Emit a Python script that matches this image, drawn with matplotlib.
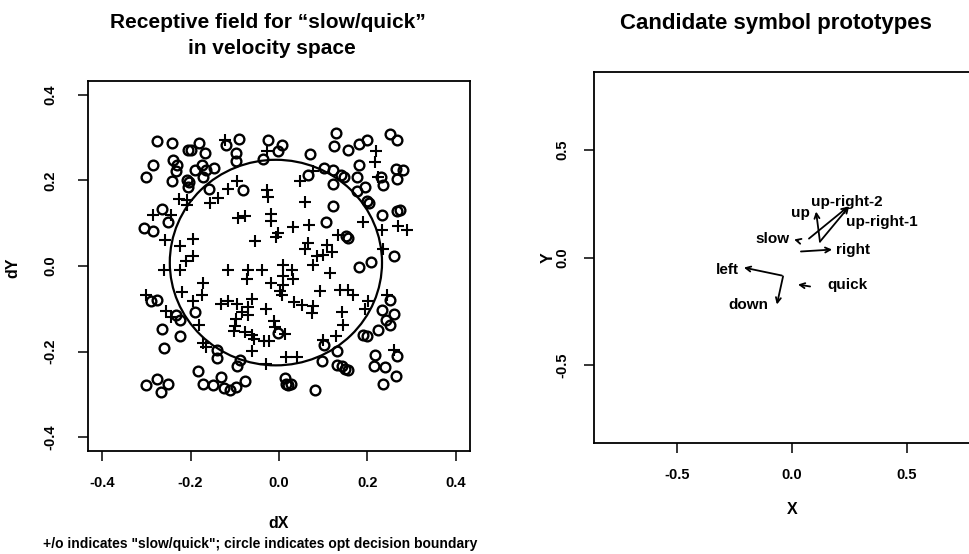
import matplotlib
matplotlib.use('Agg')
import matplotlib.pyplot as plt
from matplotlib.patches import Circle

plt.rcParams['font.family'] = ['Liberation Sans', 'DejaVu Sans']
plt.rcParams['font.weight'] = 'bold'
plt.rcParams['axes.unicode_minus'] = False

# "slow" samples (+) in velocity space
slow_x = [-0.123, -0.027, -0.095, -0.116, -0.027, -0.025, -0.139, -0.157, -0.227, -0.207,
          -0.209, -0.286, -0.245, -0.093, -0.077, -0.018, -0.018, 0.032, -0.002, -0.007,
          0.048, -0.257, -0.223, -0.195, -0.195, -0.211, -0.225, -0.261, -0.055, -0.116,
          -0.070, -0.039, 0.009, 0.030, -0.073, 0.009, 0.032, -0.018, 0.009, 0.002,
          0.007, -0.173, -0.220, -0.175, -0.195, -0.300, -0.132, -0.116, -0.095, -0.061,
          -0.070, -0.030, -0.084, -0.070, -0.098, -0.100, -0.102, -0.077, -0.061, -0.057,
          -0.034, -0.023, -0.011, -0.009, 0.014, -0.255, -0.245, -0.180, -0.173, -0.164,
          -0.061, 0.016, 0.041, -0.030, 0.220, 0.218, 0.223, 0.077, 0.059, 0.068,
          0.191, 0.234, 0.270, 0.289, 0.134, 0.066, 0.059, 0.109, 0.120, 0.100,
          0.086, 0.077, 0.116, 0.236, 0.093, 0.139, 0.157, 0.168, 0.034, 0.052,
          0.077, 0.075, 0.143, 0.145, 0.130, 0.100, 0.202, 0.195, 0.245, 0.259]
slow_y = [0.294, 0.268, 0.198, 0.179, 0.177, 0.161, 0.159, 0.147, 0.156, 0.154,
          0.142, 0.119, 0.119, 0.112, 0.117, 0.121, 0.105, 0.091, 0.077, 0.068,
          0.198, 0.061, 0.047, 0.063, 0.023, 0.012, -0.009, -0.009, 0.058, -0.009,
          -0.009, -0.009, 0.002, -0.009, -0.030, -0.023, -0.030, -0.040, -0.044, -0.058,
          -0.068, -0.040, -0.061, -0.068, -0.082, -0.068, -0.089, -0.082, -0.089, -0.077,
          -0.096, -0.100, -0.107, -0.114, -0.124, -0.140, -0.152, -0.154, -0.161, -0.170,
          -0.175, -0.175, -0.128, -0.142, -0.159, -0.105, -0.119, -0.138, -0.179, -0.189,
          -0.198, -0.212, -0.212, -0.228, 0.268, 0.242, 0.207, 0.221, 0.149, 0.096,
          0.103, 0.084, 0.093, 0.084, 0.072, 0.054, 0.040, 0.049, 0.033, 0.026,
          0.023, 0.002, -0.016, 0.040, -0.058, -0.056, -0.056, -0.068, -0.084, -0.091,
          -0.093, -0.110, -0.107, -0.138, -0.163, -0.172, -0.082, -0.100, -0.068, -0.196]

# "quick" samples (o)
quick_x = [-0.275, -0.241, -0.205, -0.180, -0.120, -0.091, -0.025, 0.007, -0.002, -0.098,
           -0.098, -0.286, -0.300, -0.239, -0.230, -0.232, -0.241, -0.207, -0.205, -0.191,
           -0.175, -0.164, -0.148, -0.173, -0.168, -0.036, -0.159, -0.082, -0.264, -0.250,
           -0.305, -0.286, -0.289, -0.275, -0.234, -0.225, -0.191, -0.264, -0.223, -0.259,
           -0.141, -0.141, -0.089, -0.095, -0.184, -0.132, -0.077, -0.173, -0.150, -0.125,
           -0.111, -0.098, -0.300, -0.275, -0.252, -0.268, 0.014, 0.016, 0.027, -0.002,
           0.130, 0.125, 0.155, 0.182, 0.198, 0.252, 0.266, 0.070, 0.182, 0.102,
           0.123, 0.141, 0.148, 0.123, 0.177, 0.195, 0.177, 0.200, 0.230, 0.236,
           0.264, 0.280, 0.268, 0.268, 0.232, 0.123, 0.107, 0.152, 0.259, 0.207,
           0.182, 0.066, 0.252, 0.232, 0.261, 0.243, 0.252, 0.223, 0.189, 0.200,
           0.102, 0.132, 0.098, 0.132, 0.143, 0.150, 0.218, 0.214, 0.239, 0.266,
           0.264, 0.236, 0.082,
           -0.200, -0.203, 0.204, 0.273, 0.157, 0.155, 0.020]
quick_y = [0.291, 0.287, 0.270, 0.287, 0.282, 0.296, 0.294, 0.282, 0.268, 0.263,
           0.245, 0.235, 0.207, 0.247, 0.235, 0.221, 0.198, 0.200, 0.184, 0.224,
           0.235, 0.224, 0.228, 0.207, 0.263, 0.249, 0.179, 0.177, 0.133, 0.103,
           0.089, 0.082, -0.082, -0.079, -0.114, -0.126, -0.107, -0.147, -0.163, -0.191,
           -0.196, -0.214, -0.219, -0.233, -0.245, -0.259, -0.268, -0.275, -0.277, -0.284,
           -0.289, -0.282, -0.277, -0.263, -0.275, -0.294, -0.261, -0.275, -0.275, -0.156,
           0.310, 0.280, 0.270, 0.284, 0.294, 0.308, 0.294, 0.261, 0.235, 0.228,
           0.224, 0.212, 0.207, 0.191, 0.207, 0.184, 0.175, 0.152, 0.207, 0.189,
           0.226, 0.224, 0.203, 0.128, 0.119, 0.140, 0.103, 0.070, 0.023, 0.009,
           -0.002, 0.212, -0.079, -0.103, -0.112, -0.126, -0.138, -0.149, -0.161, -0.163,
           -0.184, -0.198, -0.221, -0.231, -0.233, -0.240, -0.207, -0.233, -0.235, -0.210,
           -0.256, -0.275, -0.289,
           0.272, 0.196, 0.148, 0.131, 0.066, -0.243, -0.279]

# optimal decision boundary
bound_center = (-0.007, 0.008)
bound_radius = 0.24

ticks_left = [-0.4, -0.2, 0.0, 0.2, 0.4]
ticks_right = [-0.5, 0.0, 0.5]

# candidate symbol prototypes: arrow tail -> head, plus label position
proto_names = ['up-right-2', 'up-right-1', 'up', 'right', 'slow', 'left', 'down', 'quick']
proto_x0 = [0.074, 0.122, 0.122, 0.039, 0.026, -0.044, -0.039, 0.079]
proto_y0 = [0.088, 0.074, 0.074, 0.028, 0.079, -0.084, -0.088, -0.135]
proto_x1 = [0.245, 0.249, 0.105, 0.175, 0.009, -0.210, -0.066, 0.026]
proto_y1 = [0.237, 0.237, 0.214, 0.037, 0.084, -0.047, -0.219, -0.126]
label_x = [0.240, 0.393, 0.039, 0.266, -0.083, -0.284, -0.192, 0.240]
label_y = [0.260, 0.167, 0.209, 0.037, 0.084, -0.056, -0.223, -0.126]

W, H = 969, 554
fig = plt.figure(figsize=(W / 100, H / 100), dpi=100)


def fx(x):
    return x / W


def fy(y):
    return 1 - y / H


def style_axes(ax, ticks, ypad):
    ax.set_xticks(ticks)
    ax.set_yticks(ticks)
    ax.set_xticklabels(['%.1f' % t for t in ticks])
    ax.set_yticklabels(['%.1f' % t for t in ticks])
    ax.tick_params(direction='out', length=7, width=1.1, labelsize=10.5, colors='k')
    ax.tick_params(axis='x', pad=11)
    ax.tick_params(axis='y', pad=ypad, labelrotation=90)
    for lab in ax.get_yticklabels():
        lab.set_va('center')
    for sp in ax.spines.values():
        sp.set_linewidth(1.3)


# left panel
ax1 = fig.add_axes([fx(88), fy(451), 382 / W, 370 / H])
ax1.plot(slow_x, slow_y, '+', color='k', ms=8, mew=1.5)
ax1.plot(quick_x, quick_y, 'o', mfc='none', mec='k', ms=7, mew=1.7)
ax1.add_patch(Circle(bound_center, bound_radius, fill=False, lw=1.6, color='k'))
ax1.set_xlim(-0.432, 0.432)
ax1.set_ylim(-0.432, 0.432)
style_axes(ax1, ticks_left, 15)

fig.text(fx(268), fy(23), 'Receptive field for \u201cslow/quick\u201d', ha='center', va='center', fontsize=15)
fig.text(fx(272), fy(49), 'in velocity space', ha='center', va='center', fontsize=15)
fig.text(fx(13), fy(268), 'dY', rotation=90, ha='center', va='center', fontsize=11.5)
fig.text(fx(279), fy(523), 'dX', ha='center', va='center', fontsize=11.5)
fig.text(fx(260), fy(544), '+/o indicates "slow/quick"; circle indicates opt decision boundary',
         ha='center', va='center', fontsize=10)

# right panel
ax2 = fig.add_axes([fx(594), fy(443), 396 / W, 371 / H])
for i in range(len(proto_names)):
    ax2.annotate('', xy=(proto_x1[i], proto_y1[i]), xytext=(proto_x0[i], proto_y0[i]),
                 arrowprops=dict(arrowstyle='->', color='k', lw=1.3,
                                 shrinkA=0, shrinkB=0, mutation_scale=9))
    ax2.text(label_x[i], label_y[i], proto_names[i], ha='center', va='center', fontsize=11)
ax2.set_xlim(-0.864, 0.864)
ax2.set_ylim(-0.864, 0.864)
style_axes(ax2, ticks_right, 11)

fig.text(fx(776), fy(23), 'Candidate symbol prototypes', ha='center', va='center', fontsize=16)
fig.text(fx(548), fy(258), 'Y', rotation=90, ha='center', va='center', fontsize=11.5)
fig.text(fx(792), fy(509), 'X', ha='center', va='center', fontsize=11.5)

fig.savefig('out.png', dpi=100)
